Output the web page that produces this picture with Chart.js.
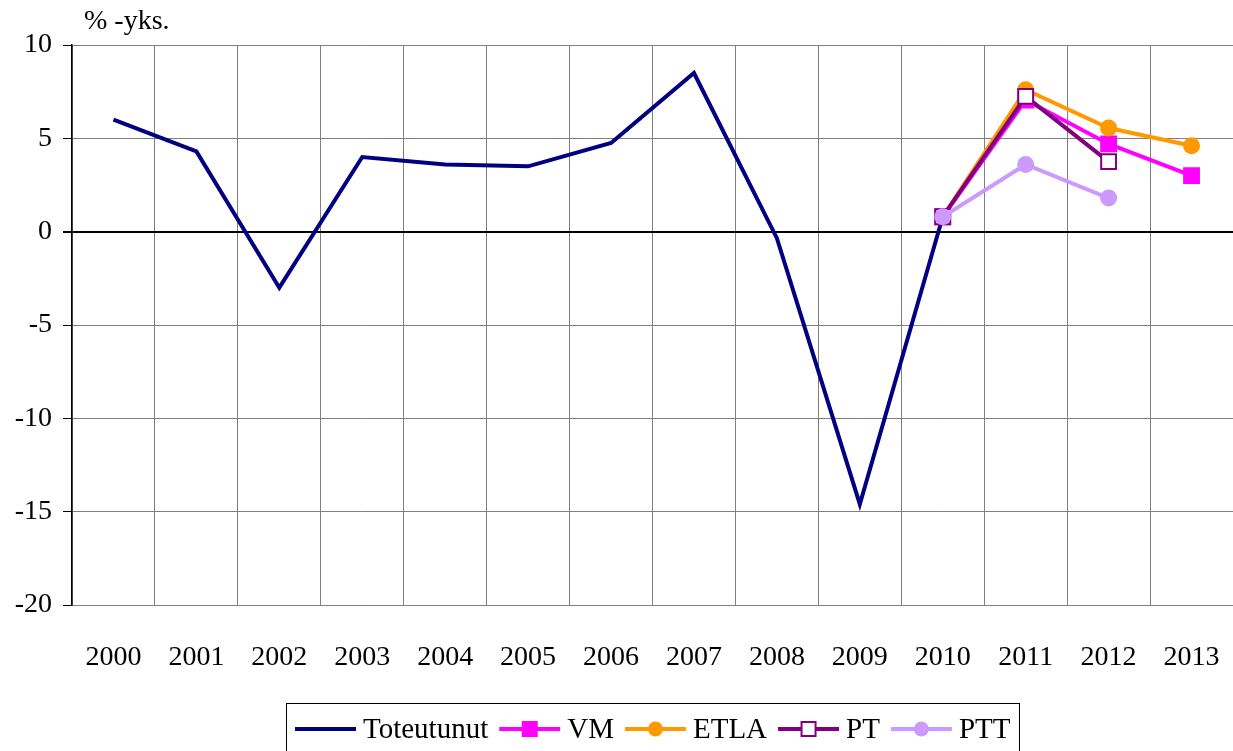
<!DOCTYPE html>
<html>
<head>
<meta charset="utf-8">
<script src="https://cdn.jsdelivr.net/npm/chart.js@4/dist/chart.umd.min.js"></script>
<style>
    html, body { margin: 0; padding: 0; background: #fff; }
    #wrap { width: 1233px; height: 751px; }
</style>
</head>
<body>
<div id="wrap"><canvas id="kuvio"></canvas></div>
<script>
// Vuodet ja sarjat
const vuodet = ['2000', '2001', '2002', '2003', '2004', '2005', '2006', '2007', '2008', '2009', '2010', '2011', '2012', '2013'];
const toteutunut = [6.0, 4.3, -3.0, 4.0, 3.6, 3.5, 4.75, 8.5, -0.35, -14.6, 0.8, null, null, null];
const vm = [null, null, null, null, null, null, null, null, null, null, 0.8, 7.05, 4.7, 3.0];
const etla = [null, null, null, null, null, null, null, null, null, null, 0.8, 7.6, 5.55, 4.6];
const pt = [null, null, null, null, null, null, null, null, null, null, 0.8, 7.25, 3.75, null];
const ptt = [null, null, null, null, null, null, null, null, null, null, 0.8, 3.6, 1.8, null];
const yTicks = [10, 5, 0, -5, -10, -15, -20];

const fontti = 'Liberation Serif, Times New Roman, serif';

const sarjat = [
    { label: 'Toteutunut', data: toteutunut, color: '#000080', point: false, order: 4 },
    { label: 'VM', data: vm, color: '#FF00FF', point: 'rect', fill: '#FF00FF', radius: 10.5, order: 3 },
    { label: 'ETLA', data: etla, color: '#FF9900', point: 'circle', fill: '#FF9900', radius: 8.5, order: 2 },
    { label: 'PT', data: pt, color: '#800080', point: 'rect', fill: '#FFFFFF', radius: 10.5, order: 1 },
    { label: 'PTT', data: ptt, color: '#CC99FF', point: 'circle', fill: '#CC99FF', radius: 8.5, order: 0 }
];

// Otsikko ja selite piirretään itse
const omaPiirto = {
    id: 'omaPiirto',
    afterDraw(chart) {
        const ctx = chart.ctx;
        const area = chart.chartArea;
        ctx.save();
        ctx.fillStyle = '#000';
        ctx.font = '28px ' + fontti;
        ctx.textBaseline = 'middle';
        ctx.textAlign = 'left';
        ctx.fillText('% -yks.', area.left + 12, 22);

        // selite
        ctx.font = '29px ' + fontti;
        const viiva = 61, vali = 7, loppu = 11, reuna = 9;
        let leveys = reuna * 2 - loppu;
        sarjat.forEach(s => { leveys += viiva + vali + ctx.measureText(s.label).width + loppu; });
        const keski = (area.left + area.right) / 2;
        const x0 = Math.round(keski - leveys / 2);
        const yTop = 703, yMid = 729;
        ctx.strokeStyle = '#000';
        ctx.lineWidth = 1;
        ctx.strokeRect(x0 + 0.5, yTop + 0.5, Math.round(leveys), 80);

        let x = x0 + reuna;
        sarjat.forEach(s => {
            ctx.strokeStyle = s.color;
            ctx.lineWidth = 4;
            ctx.beginPath();
            ctx.moveTo(x, yMid);
            ctx.lineTo(x + viiva, yMid);
            ctx.stroke();
            const cx = x + viiva / 2;
            if (s.point === 'rect') {
                ctx.fillStyle = s.fill;
                ctx.fillRect(cx - 7, yMid - 7, 14, 14);
                ctx.lineWidth = 2;
                ctx.strokeRect(cx - 7, yMid - 7, 14, 14);
            } else if (s.point === 'circle') {
                ctx.fillStyle = s.fill;
                ctx.beginPath();
                ctx.arc(cx, yMid, 7.5, 0, Math.PI * 2);
                ctx.fill();
            }
            x += viiva + vali;
            ctx.fillStyle = '#000';
            ctx.fillText(s.label, x, yMid + 1);
            x += ctx.measureText(s.label).width + loppu;
        });
        ctx.restore();
    }
};

new Chart(document.getElementById('kuvio'), {
    type: 'line',
    data: {
        labels: vuodet,
        datasets: sarjat.map(s => ({
            label: s.label,
            data: s.data,
            order: s.order,
            borderColor: s.color,
            backgroundColor: s.fill || s.color,
            borderWidth: 4,
            pointStyle: s.point || 'circle',
            pointRadius: s.point ? s.radius : 0,
            pointBorderWidth: s.point === 'rect' ? 2 : 0,
            pointBorderColor: s.color,
            pointBackgroundColor: s.fill || s.color,
            tension: 0,
            spanGaps: false
        }))
    },
    options: {
        responsive: true,
        maintainAspectRatio: false,
        animation: false,
        layout: { autoPadding: false, padding: { top: 45, left: 0, right: 0, bottom: 0 } },
        plugins: {
            legend: { display: false },
            tooltip: { enabled: false }
        },
        scales: {
            x: {
                offset: true,
                grid: {
                    offset: true,
                    color: '#808080',
                    lineWidth: 1,
                    drawTicks: false
                },
                border: { color: '#808080', width: 1 },
                ticks: {
                    color: '#000',
                    font: { family: fontti, size: 28 },
                    padding: 36,
                    maxRotation: 0,
                    autoSkip: false
                },
                afterFit(scale) {
                    scale.height = 146;
                    scale.paddingLeft = 0;
                    scale.paddingRight = 0;
                }
            },
            y: {
                min: -20,
                max: 10,
                afterBuildTicks(scale) { scale.ticks = yTicks.map(v => ({ value: v })); },
                grid: {
                    color: c => (c.tick && c.tick.value === 0) ? '#000' : '#808080',
                    lineWidth: c => (c.tick && c.tick.value === 0) ? 2 : 1,
                    tickColor: '#000',
                    tickLength: 9
                },
                border: { color: '#000', width: 1.5 },
                ticks: {
                    color: '#000',
                    font: { family: fontti, size: 28 },
                    padding: 11
                },
                afterFit(scale) {
                    scale.width = 72;
                    scale.paddingTop = 0;
                    scale.paddingBottom = 0;
                }
            }
        }
    },
    plugins: [omaPiirto]
});
</script>
</body>
</html>
